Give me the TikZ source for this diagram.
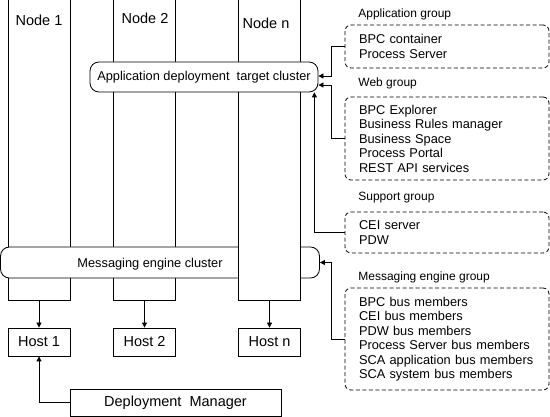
\documentclass[tikz,border=0pt]{standalone}
\usepackage{fontspec}
\setmainfont{Liberation Sans}
\usetikzlibrary{arrows.meta,positioning}

\tikzset{
  nodebox/.style={draw,fill=white,minimum width=62pt,minimum height=302pt,inner sep=0pt},
  hostbox/.style={draw,minimum width=62pt,minimum height=28pt,inner sep=0pt,font=\fontsize{14.5}{16}\selectfont},
  nodelabel/.style={font=\fontsize{14.5}{16}\selectfont},
  cluster/.style={draw,fill=white,rounded corners=9pt,inner sep=0pt},
  grpbox/.style={draw,dash pattern=on 4pt off 2.5pt,rounded corners=6pt,minimum width=204pt,
                 text width=176pt,inner xsep=14pt,inner ysep=0pt,align=left},
  grplabel/.style={anchor=west,inner sep=0pt,font=\fontsize{12}{14}\selectfont}
}

\begin{document}
\begin{tikzpicture}[x=1pt,y=-1pt,line width=0.8pt,font=\fontsize{12.8}{14.5}\selectfont]
\useasboundingbox (0,0) rectangle (550,417);

\node[nodebox] (n1) at (39,149) {};
\node[nodebox] (n2) at (144.5,149) {};
\node[cluster,minimum width=319pt,minimum height=31pt] (mec) at (160,262.5) {};
\node (meclbl) at (150,264) {Messaging engine cluster};
\node[nodebox] (nn) at (269.5,149) {};
\node[cluster,minimum width=228pt,minimum height=30pt] (appc) at (204,77) {Application deployment\ \ target cluster};

\node[nodelabel] (n1lbl) at (39,20) {Node 1};
\node[nodelabel] (n2lbl) at (145,18) {Node 2};
\node[nodelabel] (nnlbl) at (266,23) {Node n};

\node[hostbox] (h1) at (39,342) {Host 1};
\node[hostbox] (h2) at (144.5,342) {Host 2};
\node[hostbox] (hn) at (269.5,342) {Host n};
\node[hostbox,minimum width=211pt,minimum height=27pt] (dm) at (175.5,402.5) {Deployment\ \ Manager};

\node[grplabel] (applbl) at (358,14) {Application group};
\node[grpbox,minimum height=43pt] (appgrp) at (447,46.5) {BPC container\\Process Server};
\node[grplabel] (weblbl) at (358,83) {Web group};
\node[grpbox,minimum height=83pt] (webgrp) at (447,138.5) {BPC Explorer\\Business Rules manager\\Business Space\\Process Portal\\REST API services};
\node[grplabel] (suplbl) at (358,198) {Support group};
\node[grpbox,minimum height=41pt] (supgrp) at (447,232.5) {CEI server\\PDW};
\node[grplabel] (melbl) at (358,277) {Messaging engine group};
\node[grpbox,minimum height=102pt] (megrp) at (447,339) {BPC bus members\\CEI bus members\\PDW bus members\\Process Server bus members\\SCA application bus members\\SCA system bus members};

\begin{scope}[>={Triangle[length=5pt,width=5pt]}]
    \draw[->] (n1.south) -- (h1.north);
    \draw[->] (n2.south) -- (h2.north);
    \draw[->] (nn.south) -- (hn.north);
    \draw[->] (dm.west) -| (h1.south);
    \draw[->] (appgrp.west) -- ++(-13,0) |- ([yshift=1pt]appc.east);
    \draw[->] (webgrp.west) -- ++(-13,0) |- ([yshift=-8pt]appc.east);
    \draw[->] (supgrp.west) -| ([xshift=-4pt]appc.south east);
    \draw[->] (megrp.west) -- ++(-13,0) |- (mec.east);
\end{scope}
\end{tikzpicture}
\end{document}
